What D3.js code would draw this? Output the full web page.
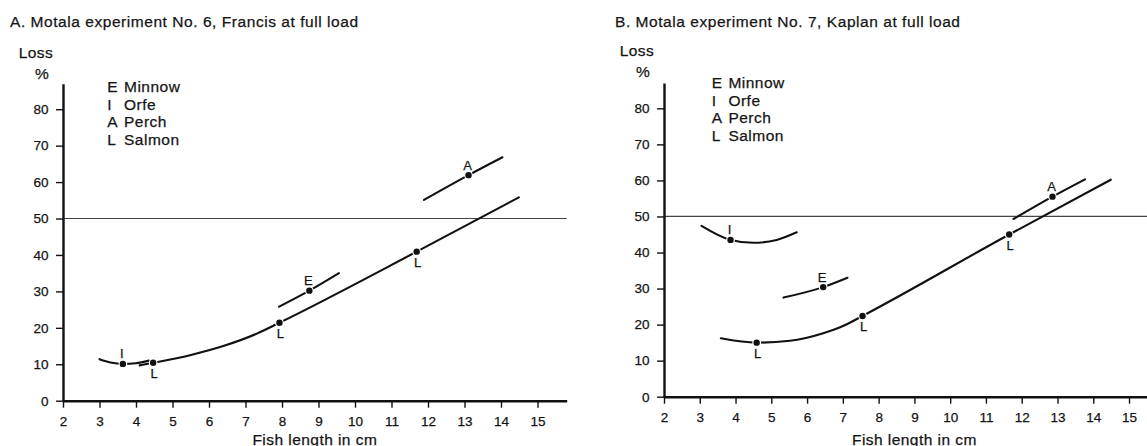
<!DOCTYPE html>
<html>
<head>
<meta charset="utf-8">
<script src="https://cdn.jsdelivr.net/npm/d3@7"></script>
<style>
  html, body { margin: 0; padding: 0; background: #fff; }
  svg { display: block; }
  text { font-family: "Liberation Sans", Arial, Helvetica, sans-serif; fill: #141414; stroke: #141414; stroke-width: 0.25px; }
</style>
</head>
<body>
<svg id="chart" width="1147" height="446"></svg>
<script>
// ---- Data -------------------------------------------------------------
const speciesCodes = ["E", "I", "A", "L"];
const speciesNames = ["Minnow", "Orfe", "Perch", "Salmon"];

const xTicks = [2, 3, 4, 5, 6, 7, 8, 9, 10, 11, 12, 13, 14, 15];
const yTicks = [0, 10, 20, 30, 40, 50, 60, 70, 80];
const criticalLoss = 50;

// Panel A: Motala experiment No. 6, Francis at full load
const titleA = "A. Motala experiment No. 6, Francis at full load";
// observed losses (fish length cm, loss %)
const obsA = [
  { code: "I", len: 3.64, loss: 10.1 },
  { code: "L", len: 4.47, loss: 10.4 },
  { code: "L", len: 7.93, loss: 21.4 },
  { code: "E", len: 8.75, loss: 30.2 },
  { code: "L", len: 11.69, loss: 40.9 },
  { code: "A", len: 13.11, loss: 61.9 }
];
// fitted curves through the observations (shape points besides the observations)
const curveA_orfe   = [[3.0, 11.4], [3.3, 10.5], [4.0, 10.3], [4.35, 11.0]];
const curveA_salmon = [[4.1, 9.7], [5.48, 12.5], [6.39, 15.0], [7.31, 18.4], [14.49, 55.8]];
const curveA_minnow = [[7.92, 25.8], [9.56, 35.0]];
const curveA_perch  = [[11.89, 55.1], [14.04, 66.8]];

// Panel B: Motala experiment No. 7, Kaplan at full load
const titleB = "B. Motala experiment No. 7, Kaplan at full load";
const obsB = [
  { code: "I", len: 3.86, loss: 43.5 },
  { code: "L", len: 4.59, loss: 15.0 },
  { code: "E", len: 6.45, loss: 30.4 },
  { code: "L", len: 7.55, loss: 22.4 },
  { code: "L", len: 11.65, loss: 45.0 },
  { code: "A", len: 12.86, loss: 55.5 }
];
const curveB_orfe   = [[3.05, 47.4], [4.5, 42.7], [5.15, 43.5], [5.71, 45.6]];
const curveB_salmon = [[3.59, 16.2], [5.52, 15.5], [6.45, 17.6], [7.05, 19.8], [14.49, 60.2]];
const curveB_minnow = [[5.34, 27.5], [7.13, 33.0]];
const curveB_perch  = [[11.77, 49.3], [13.77, 60.3]];

const yLabelTop = "Loss";
const yLabelUnit = "%";
const xLabel = "Fish length in cm";

// ---- Layout -----------------------------------------------------------
const panels = [
  {
    title: titleA, obs: obsA,
    curves: { I: curveA_orfe, L: curveA_salmon, E: curveA_minnow, A: curveA_perch },
    left: 63, right: 566.7, bottom: 400.7, top: 83.7, xMax: 15.8,
    titleX: 10, titleY: 27.3,
    lossY: 58, pctY: 78.6,
    legendX: 107.3, legendY: 92.1
  },
  {
    title: titleB, obs: obsB,
    curves: { I: curveB_orfe, L: curveB_salmon, E: curveB_minnow, A: curveB_perch },
    left: 664, right: 1164.8, bottom: 396.7, top: 83.1, xMax: 16,
    titleX: 615, titleY: 26.8,
    lossY: 56, pctY: 77,
    legendX: 711.7, legendY: 88.1
  }
];

const labelBelow = { L: true, E: false, I: false, A: false };

const svg = d3.select("#chart");

panels.forEach(p => {
  const g = svg.append("g");
  const x = d3.scaleLinear().domain([2, p.xMax]).range([p.left, p.right]);
  const y = d3.scaleLinear().domain([0, 87]).range([p.bottom, p.top]);

  // title
  g.append("text")
    .attr("x", p.titleX).attr("y", p.titleY)
    .style("font-size", "15.5px").style("letter-spacing", "0.55px")
    .text(p.title);

  // y-axis heading
  g.append("text")
    .attr("x", p.left - 27).attr("y", p.lossY)
    .attr("text-anchor", "middle")
    .style("font-size", "15.5px").style("letter-spacing", "0.4px")
    .text(yLabelTop);
  g.append("text")
    .attr("x", p.left - 21).attr("y", p.pctY)
    .attr("text-anchor", "middle")
    .style("font-size", "15.5px")
    .text(yLabelUnit);

  // x-axis title (sits at the very bottom edge of the figure)
  g.append("text")
    .attr("x", (p.left + p.right) / 2).attr("y", 445)
    .attr("text-anchor", "middle")
    .style("font-size", "15.5px").style("letter-spacing", "0.45px")
    .text(xLabel);

  // 50 % reference line
  g.append("line")
    .attr("x1", x(2)).attr("x2", x(p.xMax))
    .attr("y1", y(criticalLoss)).attr("y2", y(criticalLoss))
    .attr("stroke", "#444").attr("stroke-width", 1.2);

  // axes
  const yAxis = d3.axisLeft(y).tickValues(yTicks).tickSize(7).tickPadding(7.5).tickSizeOuter(0);
  const xAxis = d3.axisBottom(x).tickValues(xTicks).tickSize(7).tickPadding(9).tickSizeOuter(0);

  const ya = g.append("g").attr("transform", `translate(${p.left},0)`).call(yAxis);
  const xa = g.append("g").attr("transform", `translate(0,${p.bottom})`).call(xAxis);
  [ya, xa].forEach(a => {
    a.select(".domain").attr("stroke", "#111").attr("stroke-width", 2.4);
    a.selectAll(".tick line").attr("stroke", "#111").attr("stroke-width", 1.4);
    a.selectAll(".tick text")
      .style("font-family", "'Liberation Sans', Arial, sans-serif")
      .style("font-size", "13.5px").attr("fill", "#141414");
  });

  // legend
  speciesCodes.forEach((c, i) => {
    const yy = p.legendY + i * 17.6;
    g.append("text").attr("x", p.legendX).attr("y", yy)
      .style("font-size", "15.5px").text(c);
    g.append("text").attr("x", p.legendX + 16.7).attr("y", yy)
      .style("font-size", "15.5px").style("letter-spacing", "0.5px").text(speciesNames[i]);
  });

  // fitted curves: shape points merged with the observations of that species
  const line = d3.line()
    .x(d => x(d[0])).y(d => y(d[1]))
    .curve(d3.curveMonotoneX);

  Object.entries(p.curves).forEach(([code, pts]) => {
    const all = pts.concat(p.obs.filter(o => o.code === code).map(o => [o.len, o.loss]))
      .sort((a, b) => a[0] - b[0]);
    g.append("path")
      .attr("d", line(all))
      .attr("fill", "none")
      .attr("stroke", "#111")
      .attr("stroke-width", 2.1)
      .attr("stroke-linecap", "round");
  });

  // observation dots with a thin white gap around them
  g.selectAll("circle.obs").data(p.obs).enter().append("circle")
    .attr("class", "obs")
    .attr("cx", d => x(d.len)).attr("cy", d => y(d.loss))
    .attr("r", 3.2)
    .attr("fill", "#111")
    .attr("stroke", "#fff").attr("stroke-width", 2.4)
    .attr("paint-order", "stroke");

  // species letters beside the dots
  g.selectAll("text.obs").data(p.obs).enter().append("text")
    .attr("class", "obs")
    .attr("x", d => x(d.len) + (labelBelow[d.code] ? 1 : -1))
    .attr("y", d => y(d.loss) + (labelBelow[d.code] ? 15.5 : -5.5))
    .attr("text-anchor", "middle")
    .style("font-size", "13px")
    .text(d => d.code);
});
</script>
</body>
</html>
